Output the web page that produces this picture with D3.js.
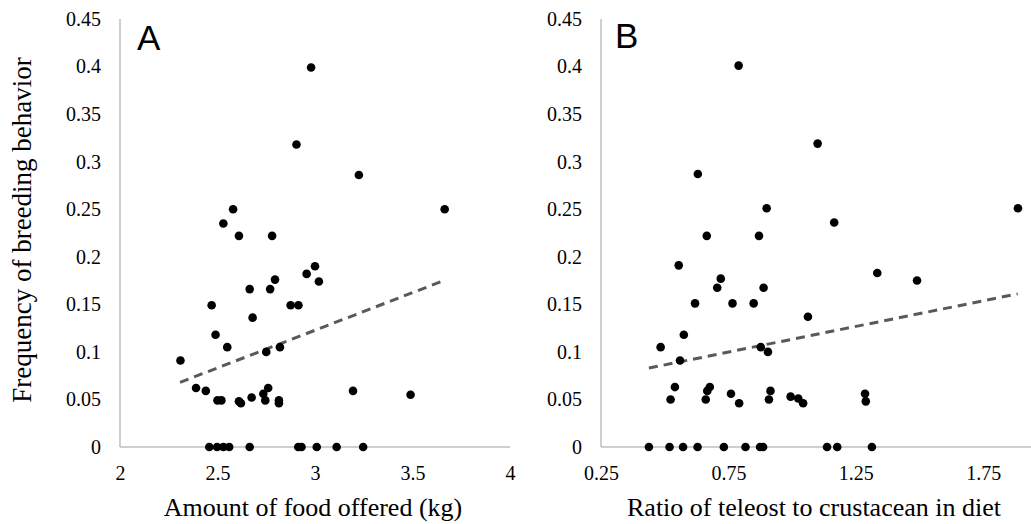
<!DOCTYPE html>
<html>
<head>
<meta charset="utf-8">
<script src="https://cdn.jsdelivr.net/npm/d3@7"></script>
<style>
  body { margin: 0; background: #fff; }
  text { font-family: "Liberation Serif", "Times New Roman", serif; fill: #000; }
  .panel-label { font-family: "Liberation Sans", Arial, sans-serif; }
</style>
</head>
<body>
<div id="chart"></div>
<script>
// Breeding frequency vs food amount (A) and teleost:crustacean ratio (B)

// panel A: amount of food offered (kg)
var foodX = [2.31, 2.39, 2.44, 2.49, 2.47, 2.50, 2.52, 2.53, 2.55, 2.58,
             2.61, 2.61, 2.62, 2.665, 2.675, 2.68, 2.735, 2.745, 2.75, 2.76,
             2.77, 2.78, 2.795, 2.82, 2.815, 2.815, 2.875, 2.915, 2.905, 2.957,
             2.98, 3.0, 3.02, 3.195, 3.225, 3.49, 3.665,
             2.458, 2.498, 2.53, 2.56, 2.665, 2.914, 2.931, 3.009, 3.111, 3.247];
var foodY = [0.091, 0.062, 0.059, 0.118, 0.149, 0.049, 0.049, 0.235, 0.105, 0.25,
             0.222, 0.048, 0.046, 0.166, 0.052, 0.136, 0.056, 0.049, 0.1, 0.062,
             0.166, 0.222, 0.176, 0.105, 0.049, 0.046, 0.149, 0.149, 0.318, 0.182,
             0.399, 0.19, 0.174, 0.059, 0.286, 0.055, 0.25,
             0, 0, 0, 0, 0, 0, 0, 0, 0, 0];

// panel B: ratio of teleost to crustacean
var ratioX = [0.79, 1.10, 0.63, 0.90, 1.886, 0.665, 0.87, 1.165, 0.555, 0.72,
              0.706, 0.888, 1.334, 1.49, 0.619, 0.766, 0.849, 1.062, 0.575, 0.484,
              0.877, 0.905, 0.56, 0.54, 0.523, 0.677, 0.667, 0.661, 0.76, 0.792,
              0.915, 0.909, 0.994, 1.024, 1.043, 1.286, 1.289,
              0.438, 0.519, 0.572, 0.629, 0.732, 0.817, 0.874, 0.886, 1.137, 1.177, 1.313];
var ratioY = [0.401, 0.319, 0.287, 0.251, 0.251, 0.222, 0.222, 0.236, 0.191, 0.177,
              0.1675, 0.1675, 0.183, 0.175, 0.151, 0.151, 0.151, 0.137, 0.118, 0.105,
              0.105, 0.100, 0.091, 0.063, 0.050, 0.063, 0.059, 0.050, 0.056, 0.046,
              0.059, 0.050, 0.053, 0.051, 0.046, 0.056, 0.048,
              0, 0, 0, 0, 0, 0, 0, 0, 0, 0, 0];

// linear trend end points
var trendA = [[2.308, 0.068], [3.667, 0.1755]];
var trendB = [[0.438, 0.083], [1.885, 0.161]];

var yTicks = [0, 0.05, 0.1, 0.15, 0.2, 0.25, 0.3, 0.35, 0.4, 0.45];
var xTicksA = [2, 2.5, 3, 3.5, 4];
var xTicksB = [0.25, 0.75, 1.25, 1.75];

var w = 1031, h = 524;

var svg = d3.select('#chart').append('svg')
    .attr('width', w)
    .attr('height', h);

var yScale = d3.scaleLinear().domain([0, 0.45]).range([447, 19]);

var panels = [
    {label: 'A', xs: foodX, ys: foodY, trend: trendA, ticks: xTicksA,
     domain: [2, 4], range: [120, 510], labelRight: 101,
     title: 'Amount of food offered (kg)', titleX: 313, letterX: 137, letterY: 50},
    {label: 'B', xs: ratioX, ys: ratioY, trend: trendB, ticks: xTicksB,
     domain: [0.25, 2.0], range: [601, 1047], labelRight: 582,
     title: 'Ratio of teleost to crustacean in diet', titleX: 814, letterX: 615, letterY: 48}
];

var line = d3.line();

panels.forEach(p => {
    var xScale = d3.scaleLinear().domain(p.domain).range(p.range);
    var g = svg.append('g').attr('class', 'panel panel-' + p.label);

    // axes (no tick marks, grey lines like the spreadsheet export)
    var xAxis = d3.axisBottom(xScale)
        .tickValues(p.ticks)
        .tickSize(0)
        .tickPadding(19)
        .tickFormat(d => String(d));
    var gx = g.append('g')
        .attr('transform', `translate(0, ${yScale(0)})`)
        .call(xAxis);
    gx.select('.domain').attr('stroke', '#bfbfbf').attr('stroke-width', 1.5)
        .attr('d', `M${p.range[0]},0H${p.range[1]}`);
    gx.selectAll('text').attr('font-size', 20)
        .attr('font-family', '"Liberation Serif", "Times New Roman", serif');

    var yAxis = d3.axisLeft(yScale)
        .tickValues(yTicks)
        .tickSize(0)
        .tickPadding(p.range[0] - p.labelRight)
        .tickFormat(d => String(+d.toFixed(2)));
    var gy = g.append('g')
        .attr('transform', `translate(${p.range[0]}, 0)`)
        .call(yAxis);
    gy.select('.domain').attr('stroke', '#bfbfbf').attr('stroke-width', 1.5)
        .attr('d', `M0,${yScale(0.45)}V${yScale(0)}`);
    gy.selectAll('text').attr('font-size', 20)
        .attr('font-family', '"Liberation Serif", "Times New Roman", serif');

    // dashed trend line
    g.append('path')
        .attr('d', line(p.trend.map(d => [xScale(d[0]), yScale(d[1])])))
        .attr('fill', 'none')
        .attr('stroke', '#595959')
        .attr('stroke-width', 3)
        .attr('stroke-dasharray', '9,6');

    // points
    g.selectAll('circle')
        .data(p.xs.map((x, i) => ({x: x, y: p.ys[i]})))
        .enter()
        .append('circle')
        .attr('cx', d => xScale(d.x))
        .attr('cy', d => yScale(d.y))
        .attr('r', 4.3)
        .attr('fill', '#000');

    g.append('text')
        .attr('class', 'panel-label')
        .attr('x', p.letterX)
        .attr('y', p.letterY)
        .attr('font-size', 35)
        .text(p.label);

    g.append('text')
        .attr('x', p.titleX)
        .attr('y', 516)
        .attr('text-anchor', 'middle')
        .attr('font-size', 26)
        .text(p.title);
});

svg.append('text')
    .attr('transform', 'translate(31, 230) rotate(-90)')
    .attr('text-anchor', 'middle')
    .attr('font-size', 27)
    .text('Frequency of breeding behavior');
</script>
</body>
</html>
